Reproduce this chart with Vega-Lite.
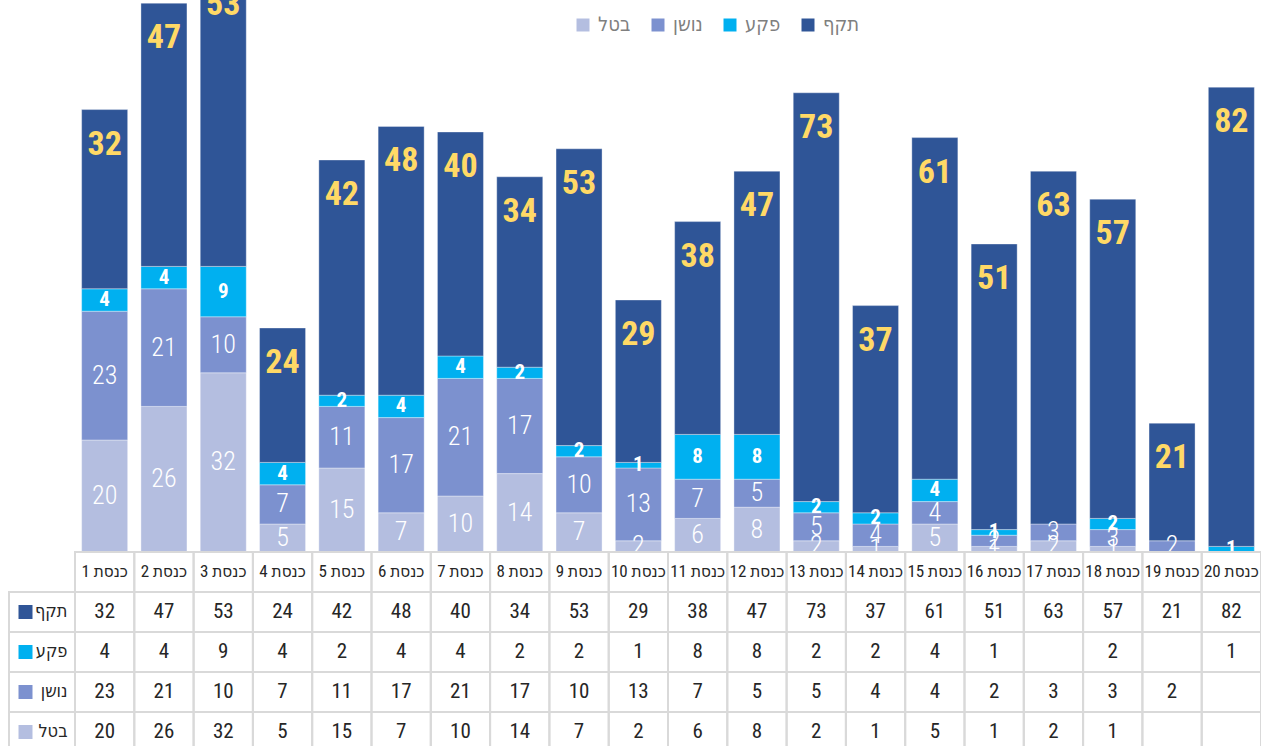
{
  "$schema": "https://vega.github.io/schema/vega-lite/v6.json",
  "width": 1261,
  "height": 746,
  "padding": 0,
  "autosize": {"type": "none"},
  "background": "white",
  "config": {"view": {"stroke": null}, "font": "Roboto Condensed, DejaVu Sans Condensed, sans-serif"},
  "datasets": {
    "knesset": [
      {"k": "כנסת 1", "תקף": 32, "פקע": 4, "נושן": 23, "בטל": 20},
      {"k": "כנסת 2", "תקף": 47, "פקע": 4, "נושן": 21, "בטל": 26},
      {"k": "כנסת 3", "תקף": 53, "פקע": 9, "נושן": 10, "בטל": 32},
      {"k": "כנסת 4", "תקף": 24, "פקע": 4, "נושן": 7, "בטל": 5},
      {"k": "כנסת 5", "תקף": 42, "פקע": 2, "נושן": 11, "בטל": 15},
      {"k": "כנסת 6", "תקף": 48, "פקע": 4, "נושן": 17, "בטל": 7},
      {"k": "כנסת 7", "תקף": 40, "פקע": 4, "נושן": 21, "בטל": 10},
      {"k": "כנסת 8", "תקף": 34, "פקע": 2, "נושן": 17, "בטל": 14},
      {"k": "כנסת 9", "תקף": 53, "פקע": 2, "נושן": 10, "בטל": 7},
      {"k": "כנסת 10", "תקף": 29, "פקע": 1, "נושן": 13, "בטל": 2},
      {"k": "כנסת 11", "תקף": 38, "פקע": 8, "נושן": 7, "בטל": 6},
      {"k": "כנסת 12", "תקף": 47, "פקע": 8, "נושן": 5, "בטל": 8},
      {"k": "כנסת 13", "תקף": 73, "פקע": 2, "נושן": 5, "בטל": 2},
      {"k": "כנסת 14", "תקף": 37, "פקע": 2, "נושן": 4, "בטל": 1},
      {"k": "כנסת 15", "תקף": 61, "פקע": 4, "נושן": 4, "בטל": 5},
      {"k": "כנסת 16", "תקף": 51, "פקע": 1, "נושן": 2, "בטל": 1},
      {"k": "כנסת 17", "תקף": 63, "נושן": 3, "בטל": 2},
      {"k": "כנסת 18", "תקף": 57, "פקע": 2, "נושן": 3, "בטל": 1},
      {"k": "כנסת 19", "תקף": 21, "נושן": 2},
      {"k": "כנסת 20", "תקף": 82, "פקע": 1}
    ],
    "rows": [
      {"series": "תקף"},
      {"series": "פקע"},
      {"series": "נושן"},
      {"series": "בטל"}
    ]
  },
  "layer": [
    {
      "data": {"name": "knesset"},
      "transform": [
        {"fold": ["בטל", "נושן", "פקע", "תקף"], "as": ["series", "value"]},
        {"filter": "isValid(datum.value)"}
      ],
      "mark": {"type": "bar", "stroke": "#ffffff", "strokeOpacity": 0.35, "strokeWidth": 1},
      "encoding": {
        "x": {"field": "k", "type": "nominal", "sort": null, "scale": {"range": [75, 1261], "paddingInner": 0.224, "paddingOuter": 0.112}, "axis": null},
        "y": {"field": "value", "type": "quantitative", "stack": "zero", "scale": {"domain": [0, 98.57], "range": [552, 0], "nice": false}, "axis": null},
        "color": {
          "field": "series", "type": "nominal",
          "scale": {"domain": ["בטל", "נושן", "פקע", "תקף"], "range": ["#B4BEE0", "#7C91CF", "#00B0F0", "#2F5597"]},
          "legend": {"orient": "none", "legendX": 573, "legendY": 15, "direction": "horizontal", "title": null, "symbolType": "square", "symbolSize": 169, "symbolStrokeWidth": 0, "labelFontSize": 20, "labelColor": "#7f7f7f", "labelFont": "Roboto Condensed, DejaVu Sans Condensed, sans-serif", "columnPadding": 17, "labelOffset": 5, "padding": 0, "labelLimit": 200}
        },
        "order": {"field": "series", "type": "ordinal", "sort": "ascending"}
      }
    },
    {
      "data": {"name": "knesset"},
      "transform": [
        {"fold": ["בטל", "נושן", "פקע", "תקף"], "as": ["series", "value"]},
        {"filter": "isValid(datum.value)"}
      ],
      "mark": {"type": "text", "fontSize": 26, "fontWeight": 300, "color": "#ffffff", "baseline": "middle", "font": "Roboto Condensed, DejaVu Sans Condensed, sans-serif"},
      "encoding": {
        "x": {"field": "k", "type": "nominal", "sort": null, "scale": {"range": [75, 1261], "paddingInner": 0.224, "paddingOuter": 0.112}, "axis": null},
        "y": {"field": "value", "type": "quantitative", "stack": "zero", "bandPosition": 0.5, "scale": {"domain": [0, 98.57], "range": [552, 0], "nice": false}, "axis": null},
        "detail": {"field": "series"},
        "order": {"field": "series", "type": "ordinal", "sort": "ascending"},
        "text": {"condition": {"test": "datum.series === 'פקע' || datum.series === 'תקף'", "value": ""}, "field": "value", "type": "quantitative"}
      }
    },
    {
      "data": {"name": "knesset"},
      "transform": [
        {"fold": ["בטל", "נושן", "פקע", "תקף"], "as": ["series", "value"]},
        {"filter": "isValid(datum.value)"}
      ],
      "mark": {"type": "text", "fontSize": 21, "fontWeight": "bold", "color": "#ffffff", "baseline": "middle", "font": "Roboto Condensed, DejaVu Sans Condensed, sans-serif"},
      "encoding": {
        "x": {"field": "k", "type": "nominal", "sort": null, "scale": {"range": [75, 1261], "paddingInner": 0.224, "paddingOuter": 0.112}, "axis": null},
        "y": {"field": "value", "type": "quantitative", "stack": "zero", "bandPosition": 0.5, "scale": {"domain": [0, 98.57], "range": [552, 0], "nice": false}, "axis": null},
        "detail": {"field": "series"},
        "order": {"field": "series", "type": "ordinal", "sort": "ascending"},
        "text": {"condition": {"test": "datum.series !== 'פקע'", "value": ""}, "field": "value", "type": "quantitative"}
      }
    },
    {
      "data": {"name": "knesset"},
      "transform": [
        {"fold": ["בטל", "נושן", "פקע", "תקף"], "as": ["series", "value"]},
        {"filter": "isValid(datum.value)"}
      ],
      "mark": {"type": "text", "fontSize": 34, "fontWeight": "bold", "color": "#FFD966", "baseline": "middle", "dy": 35, "font": "Roboto Condensed, DejaVu Sans Condensed, sans-serif"},
      "encoding": {
        "x": {"field": "k", "type": "nominal", "sort": null, "scale": {"range": [75, 1261], "paddingInner": 0.224, "paddingOuter": 0.112}, "axis": null},
        "y": {"field": "value", "type": "quantitative", "stack": "zero", "scale": {"domain": [0, 98.57], "range": [552, 0], "nice": false}, "axis": null},
        "detail": {"field": "series"},
        "order": {"field": "series", "type": "ordinal", "sort": "ascending"},
        "text": {"condition": {"test": "datum.series !== 'תקף'", "value": ""}, "field": "value", "type": "quantitative"}
      }
    },
    {
      "data": {"name": "knesset"},
      "transform": [
        {"fold": ["בטל", "נושן", "פקע", "תקף"], "as": ["series", "value"]}
      ],
      "mark": {"type": "rect", "fill": "transparent", "stroke": "#d9d9d9", "strokeWidth": 2},
      "encoding": {
        "x": {"field": "k", "type": "nominal", "sort": null, "scale": {"range": [75, 1261], "paddingInner": 0, "paddingOuter": 0}, "axis": null},
        "y": {"field": "series", "type": "nominal", "scale": {"domain": ["header", "תקף", "פקע", "נושן", "בטל"], "range": [552, 752], "paddingInner": 0, "paddingOuter": 0}, "axis": null}
      }
    },
    {
      "data": {"name": "knesset"},
      "mark": {"type": "rect", "fill": "transparent", "stroke": "#d9d9d9", "strokeWidth": 2},
      "encoding": {
        "x": {"field": "k", "type": "nominal", "sort": null, "scale": {"range": [75, 1261], "paddingInner": 0, "paddingOuter": 0}, "axis": null},
        "y": {"datum": "header", "type": "nominal", "scale": {"domain": ["header", "תקף", "פקע", "נושן", "בטל"], "range": [552, 752], "paddingInner": 0, "paddingOuter": 0}, "axis": null}
      }
    },
    {
      "data": {"name": "knesset"},
      "mark": {"type": "text", "fontSize": 17, "color": "#262626", "baseline": "middle", "font": "Roboto Condensed, DejaVu Sans Condensed, sans-serif"},
      "encoding": {
        "x": {"field": "k", "type": "nominal", "sort": null, "scale": {"range": [75, 1261], "paddingInner": 0, "paddingOuter": 0}, "axis": null},
        "y": {"datum": "header", "type": "nominal", "scale": {"domain": ["header", "תקף", "פקע", "נושן", "בטל"], "range": [552, 752], "paddingInner": 0, "paddingOuter": 0}, "axis": null},
        "text": {"field": "k", "type": "nominal"}
      }
    },
    {
      "data": {"name": "knesset"},
      "transform": [
        {"fold": ["בטל", "נושן", "פקע", "תקף"], "as": ["series", "value"]},
        {"filter": "isValid(datum.value)"}
      ],
      "mark": {"type": "text", "fontSize": 21, "color": "#262626", "baseline": "middle", "font": "Roboto Condensed, DejaVu Sans Condensed, sans-serif"},
      "encoding": {
        "x": {"field": "k", "type": "nominal", "sort": null, "scale": {"range": [75, 1261], "paddingInner": 0, "paddingOuter": 0}, "axis": null},
        "y": {"field": "series", "type": "nominal", "scale": {"domain": ["header", "תקף", "פקע", "נושן", "בטל"], "range": [552, 752], "paddingInner": 0, "paddingOuter": 0}, "axis": null},
        "text": {"field": "value", "type": "quantitative"}
      }
    },
    {
      "data": {"name": "rows"},
      "mark": {"type": "rect", "fill": "transparent", "stroke": "#d9d9d9", "strokeWidth": 2},
      "encoding": {
        "x": {"datum": "lab", "type": "nominal", "scale": {"domain": ["lab"], "range": [9, 75], "paddingInner": 0, "paddingOuter": 0}, "axis": null},
        "y": {"field": "series", "type": "nominal", "scale": {"domain": ["header", "תקף", "פקע", "נושן", "בטל"], "range": [552, 752], "paddingInner": 0, "paddingOuter": 0}, "axis": null}
      }
    },
    {
      "data": {"name": "rows"},
      "mark": {"type": "point", "shape": "square", "filled": true, "size": 196, "opacity": 1, "strokeWidth": 0},
      "encoding": {
        "x": {"datum": "sym", "type": "nominal", "scale": {"domain": ["sym", "name"], "range": [9, 75], "paddingInner": 0, "paddingOuter": 0}, "axis": null},
        "y": {"field": "series", "type": "nominal", "scale": {"domain": ["header", "תקף", "פקע", "נושן", "בטל"], "range": [552, 752], "paddingInner": 0, "paddingOuter": 0}, "axis": null},
        "color": {"field": "series", "type": "nominal", "scale": {"domain": ["בטל", "נושן", "פקע", "תקף"], "range": ["#B4BEE0", "#7C91CF", "#00B0F0", "#2F5597"]}}
      }
    },
    {
      "data": {"name": "rows"},
      "mark": {"type": "text", "fontSize": 18, "color": "#262626", "baseline": "middle", "align": "right", "dx": 9, "font": "Roboto Condensed, DejaVu Sans Condensed, sans-serif"},
      "encoding": {
        "x": {"datum": "name", "type": "nominal", "scale": {"domain": ["sym", "name"], "range": [9, 75], "paddingInner": 0, "paddingOuter": 0}, "axis": null},
        "y": {"field": "series", "type": "nominal", "scale": {"domain": ["header", "תקף", "פקע", "נושן", "בטל"], "range": [552, 752], "paddingInner": 0, "paddingOuter": 0}, "axis": null},
        "text": {"field": "series", "type": "nominal"}
      }
    }
  ],
  "resolve": {"scale": {"x": "independent", "y": "independent"}}
}
